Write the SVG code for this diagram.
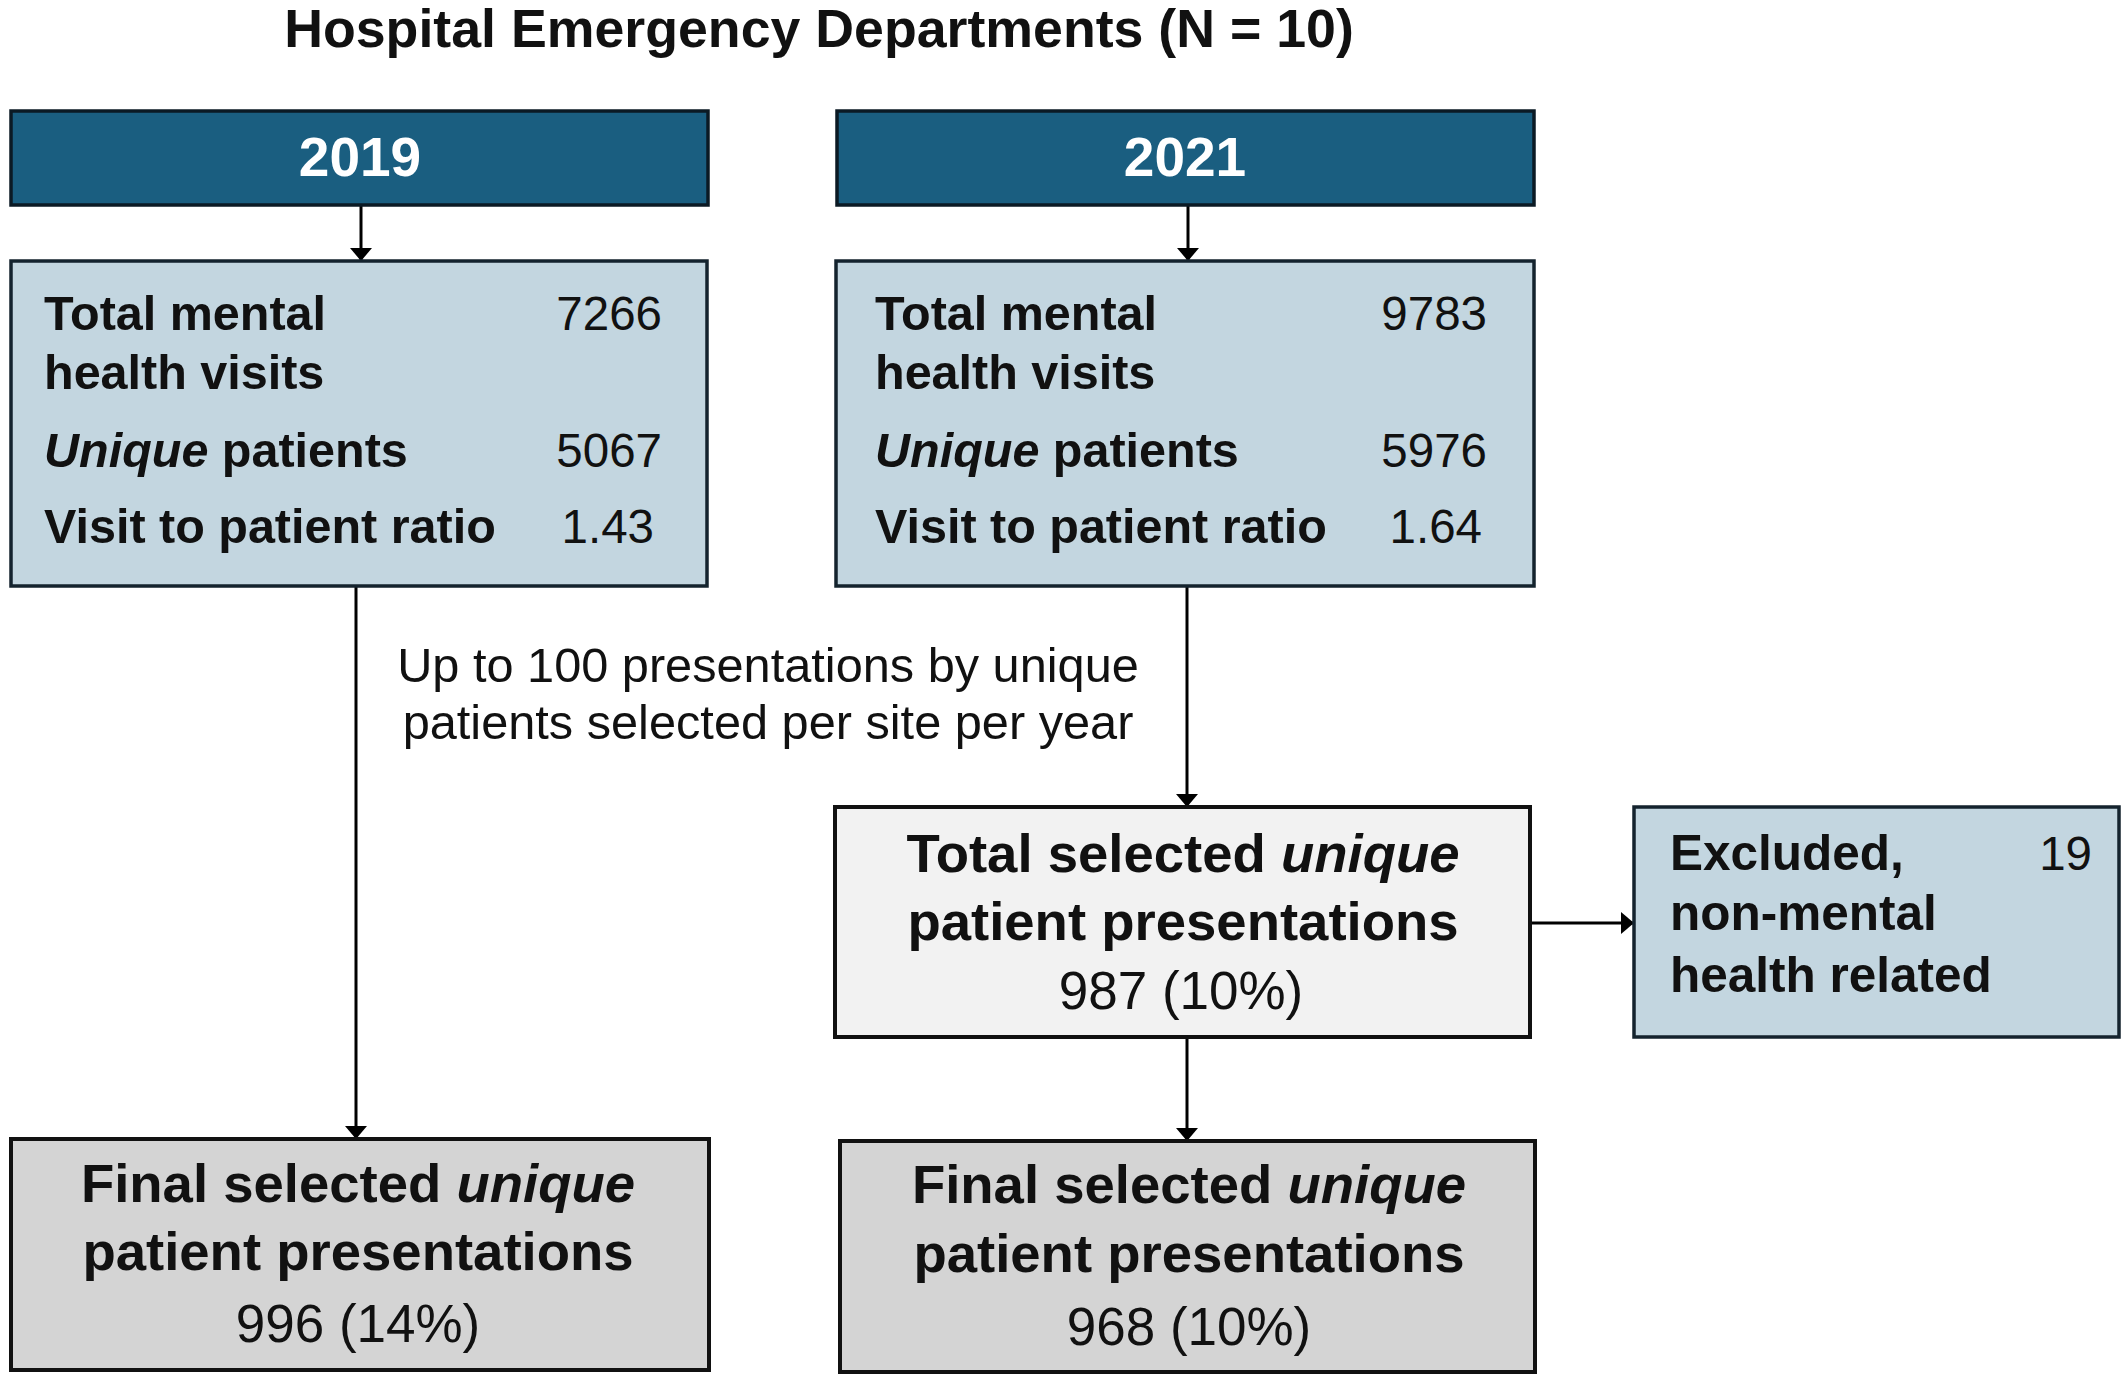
<svg xmlns="http://www.w3.org/2000/svg" width="2128" height="1382" viewBox="0 0 2128 1382">
<defs>
<style>
text{font-family:"Liberation Sans",Arial,sans-serif;fill:#111;}
.title{font-size:53.7px;font-weight:bold;}
.year{font-size:55px;font-weight:bold;fill:#fff;}
.lbl{font-size:48.5px;font-weight:bold;}
.num{font-size:47.5px;}
.mid{font-size:48.7px;}
.big{font-size:54.5px;font-weight:bold;}
.bignum{font-size:53px;}
.exl{font-size:49.5px;font-weight:bold;}
.it{font-style:italic;}
.hdr{fill:#1A5E80;stroke:#0b1a24;stroke-width:3.5;}
.blue{fill:#C3D6E0;stroke:#14232e;stroke-width:3.5;}
.light{fill:#F2F2F2;stroke:#111;stroke-width:4;}
.gray{fill:#D4D4D4;stroke:#111;stroke-width:4;}
.conn{stroke:#000;stroke-width:3;fill:none;marker-end:url(#arr);}
</style>
<marker id="arr" viewBox="0 0 13 22" refX="13" refY="11" markerUnits="userSpaceOnUse" markerWidth="13" markerHeight="22" orient="auto">
<path d="M0,0 L13,11 L0,22 Z" fill="#000"/>
</marker>
</defs>
<rect width="2128" height="1382" fill="#fff"/>
<text class="title" x="819" y="47" text-anchor="middle">Hospital Emergency Departments (N = 10)</text>

<g id="connectors">
<line class="conn" x1="361" y1="205" x2="361" y2="261"/>
<line class="conn" x1="1188" y1="205" x2="1188" y2="261"/>
<line class="conn" x1="356" y1="586" x2="356" y2="1139"/>
<line class="conn" x1="1187" y1="586" x2="1187" y2="807"/>
<line class="conn" x1="1187" y1="1037" x2="1187" y2="1141"/>
<line class="conn" x1="1530" y1="923" x2="1634" y2="923"/>
</g>

<g id="h2019">
<rect class="hdr" x="11" y="111" width="697" height="94"/>
<text class="year" x="360" y="176" text-anchor="middle">2019</text>
</g>
<g id="h2021">
<rect class="hdr" x="837" y="111" width="697" height="94"/>
<text class="year" x="1185" y="176" text-anchor="middle">2021</text>
</g>

<g id="m2019">
<rect class="blue" x="11" y="261" width="696" height="325"/>
<text class="lbl" x="44" y="330">Total mental</text>
<text class="lbl" x="44" y="389">health visits</text>
<text class="lbl" x="44" y="467"><tspan class="it">Unique</tspan> patients</text>
<text class="lbl" x="44" y="543">Visit to patient ratio</text>
<text class="num" x="662" y="330" text-anchor="end">7266</text>
<text class="num" x="662" y="467" text-anchor="end">5067</text>
<text class="num" x="654" y="543" text-anchor="end">1.43</text>
</g>
<g id="m2021">
<rect class="blue" x="836" y="261" width="698" height="325"/>
<text class="lbl" x="875" y="330">Total mental</text>
<text class="lbl" x="875" y="389">health visits</text>
<text class="lbl" x="875" y="467"><tspan class="it">Unique</tspan> patients</text>
<text class="lbl" x="875" y="543">Visit to patient ratio</text>
<text class="num" x="1487" y="330" text-anchor="end">9783</text>
<text class="num" x="1487" y="467" text-anchor="end">5976</text>
<text class="num" x="1482" y="543" text-anchor="end">1.64</text>
</g>

<g id="note">
<text class="mid" x="768" y="682" text-anchor="middle">Up to 100 presentations by unique</text>
<text class="mid" x="768" y="739" text-anchor="middle">patients selected per site per year</text>
</g>

<g id="total">
<rect class="light" x="835" y="807" width="695" height="230"/>
<text class="big" x="1183" y="872" text-anchor="middle">Total selected <tspan class="it">unique</tspan></text>
<text class="big" x="1183" y="940" text-anchor="middle">patient presentations</text>
<text class="bignum" x="1181" y="1009" text-anchor="middle">987 (10%)</text>
</g>

<g id="excluded">
<rect class="blue" x="1634" y="807" width="485" height="230"/>
<text class="exl" x="1670" y="870">Excluded,</text>
<text class="exl" x="1670" y="930">non-mental</text>
<text class="exl" x="1670" y="992">health related</text>
<text class="num" x="2092" y="870" text-anchor="end">19</text>
</g>

<g id="f2019">
<rect class="gray" x="11" y="1139" width="698" height="231"/>
<text class="big" x="358" y="1202" text-anchor="middle">Final selected <tspan class="it">unique</tspan></text>
<text class="big" x="358" y="1270" text-anchor="middle">patient presentations</text>
<text class="bignum" x="358" y="1342" text-anchor="middle">996 (14%)</text>
</g>
<g id="f2021">
<rect class="gray" x="840" y="1141" width="695" height="231"/>
<text class="big" x="1189" y="1203" text-anchor="middle">Final selected <tspan class="it">unique</tspan></text>
<text class="big" x="1189" y="1272" text-anchor="middle">patient presentations</text>
<text class="bignum" x="1189" y="1345" text-anchor="middle">968 (10%)</text>
</g>
</svg>
